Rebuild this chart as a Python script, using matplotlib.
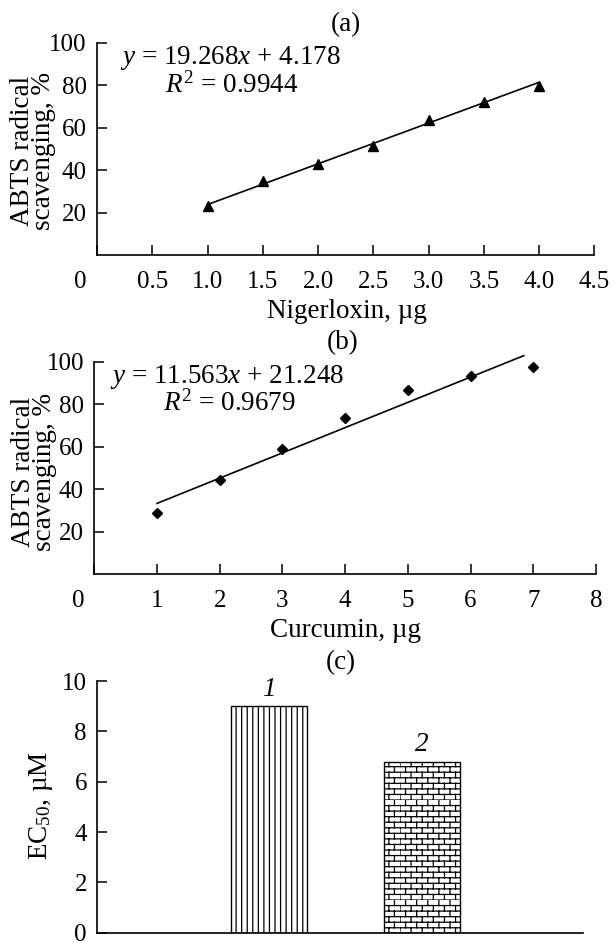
import warnings
import matplotlib
matplotlib.use("Agg")
import matplotlib.pyplot as plt
import matplotlib.hatch as mhatch
from matplotlib.path import Path
from matplotlib.transforms import ScaledTranslation

warnings.filterwarnings("ignore")

W, H = 614, 943

# (a) nigerloxin
nig_x = [1.0, 1.5, 2.0, 2.5, 3.0, 3.5, 4.0]
nig_y = [23.3, 35.0, 43.1, 51.2, 63.7, 72.3, 79.5]
nig_fit_x = [1.0, 4.0]
nig_fit_y = [23.9, 81.4]
nig_eq = "$y$ = 19.268$x$ + 4.178"
nig_r2 = "$R^2$ = 0.9944"
nig_xticks = [0, 0.5, 1.0, 1.5, 2.0, 2.5, 3.0, 3.5, 4.0, 4.5]
nig_xticklabels = ["0", "0.5", "1.0", "1.5", "2.0", "2.5", "3.0", "3.5", "4.0", "4.5"]

# (b) curcumin
cur_x = [1, 2, 3, 4, 5, 6, 7]
cur_y = [28.6, 44.3, 58.8, 73.7, 86.9, 93.2, 97.6]
cur_fit_x = [1.0, 6.85]
cur_fit_y = [33.3, 103.0]
cur_eq = "$y$ = 11.563$x$ + 21.248"
cur_r2 = "$R^2$ = 0.9679"
cur_xticks = [0, 1, 2, 3, 4, 5, 6, 7, 8]

scav_yticks = [20, 40, 60, 80, 100]

# (c) EC50
ec50_names = ["1", "2"]
ec50_vals = [9.0, 6.8]
ec50_hatches = ["|||", "b"]
ec50_yticks = [0, 2, 4, 6, 8, 10]


class BrickHatch(mhatch.HatchPatternBase):
    """brick pattern for hatch letter 'b'"""
    def __init__(self, hatch, density):
        k = hatch.count("b")
        self.rows = 3 * density * k
        self.cols = self.rows // 2
        self.num_vertices = self.rows * (2 + 2 * self.cols) if k else 0

    def set_vertices_and_codes(self, vertices, codes):
        h = 1.0 / self.rows
        w = 1.0 / self.cols
        i = 0
        for r in range(self.rows):
            y0 = r * h
            vertices[i] = (0.0, y0)
            vertices[i + 1] = (1.0, y0)
            codes[i] = Path.MOVETO
            codes[i + 1] = Path.LINETO
            i += 2
            shift = 0.5 * w * (r % 2)
            for c in range(self.cols):
                x = c * w + shift
                vertices[i] = (x, y0)
                vertices[i + 1] = (x, y0 + h)
                codes[i] = Path.MOVETO
                codes[i + 1] = Path.LINETO
                i += 2


mhatch._hatch_types.append(BrickHatch)

plt.rcParams["font.family"] = ["Liberation Serif", "DejaVu Serif"]
plt.rcParams["mathtext.fontset"] = "custom"
plt.rcParams["mathtext.rm"] = "Liberation Serif"
plt.rcParams["mathtext.it"] = "Liberation Serif:italic"
plt.rcParams["mathtext.bf"] = "Liberation Serif:bold"
plt.rcParams["hatch.linewidth"] = 0.9

FS = 19.5
TICK_FS = 18


def px(x, y):
    return x / W, 1 - y / H


def rect(left, top, right, bottom):
    return [left / W, 1 - bottom / H, (right - left) / W, (bottom - top) / H]


def style(ax):
    for s in ("top", "right"):
        ax.spines[s].set_visible(False)
    for s in ("left", "bottom"):
        ax.spines[s].set_linewidth(1.2)
    ax.tick_params(direction="in", length=7, width=1.1, labelsize=TICK_FS)
    ax.tick_params(axis="x", pad=11.5)
    ax.tick_params(axis="y", pad=7.5)


def shift_first_xlabel(ax, dx_px):
    tick = ax.xaxis.get_major_ticks()[0]
    tick.label1.set_transform(tick.label1.get_transform()
                              + ScaledTranslation(dx_px / 100, 0, fig.dpi_scale_trans))


fig = plt.figure(figsize=(W / 100, H / 100), dpi=100)

# ---- (a)
ax_a = fig.add_axes(rect(97, 42.7, 594.5, 255.4))
style(ax_a)
ax_a.plot(nig_fit_x, nig_fit_y, color="black", lw=1.2, clip_on=False)
ax_a.plot(nig_x, nig_y, "^", color="black", ms=7.5, clip_on=False, zorder=3)
ax_a.set_xlim(0, 4.5)
ax_a.set_ylim(0, 100)
ax_a.set_xticks(nig_xticks, nig_xticklabels)
ax_a.set_yticks(scav_yticks)
shift_first_xlabel(ax_a, -17)

fig.text(*px(346, 25), "(a)", ha="center", va="center", fontsize=FS)
fig.text(*px(120, 64), nig_eq, ha="left", va="baseline", fontsize=FS)
fig.text(*px(165, 92.5), nig_r2, ha="left", va="baseline", fontsize=FS)
fig.text(*px(347, 318), "Nigerloxin, µg", ha="center", va="baseline", fontsize=FS)
fig.text(*px(33, 151), "ABTS radical\nscavenging, %", rotation=90, ha="center",
         va="center", fontsize=FS, linespacing=0.82, multialignment="center")

# ---- (b)
ax_b = fig.add_axes(rect(94.3, 362, 595.9, 574))
style(ax_b)
ax_b.plot(cur_fit_x, cur_fit_y, color="black", lw=1.2, clip_on=False)
ax_b.plot(cur_x, cur_y, "D", color="black", ms=5.5, clip_on=False, zorder=3)
ax_b.set_xlim(0, 8)
ax_b.set_ylim(0, 100)
ax_b.set_xticks(cur_xticks)
ax_b.set_yticks(scav_yticks)
shift_first_xlabel(ax_b, -16)

fig.text(*px(343, 342.5), "(b)", ha="center", va="center", fontsize=FS)
fig.text(*px(110, 383.3), cur_eq, ha="left", va="baseline", fontsize=FS)
fig.text(*px(163, 411), cur_r2, ha="left", va="baseline", fontsize=FS)
fig.text(*px(346, 637), "Curcumin, µg", ha="center", va="baseline", fontsize=FS)
fig.text(*px(34, 472), "ABTS radical\nscavenging, %", rotation=90, ha="center",
         va="center", fontsize=FS, linespacing=0.82, multialignment="center")

# ---- (c)
ax_c = fig.add_axes(rect(97.4, 681, 583, 932.7))
style(ax_c)
pos = list(range(len(ec50_vals)))
bars = ax_c.bar(pos, ec50_vals, width=0.5, color="white", edgecolor="black", linewidth=1.0)
for b, h in zip(bars, ec50_hatches):
    b.set_hatch(h)
for p, v, name in zip(pos, ec50_vals, ec50_names):
    ax_c.annotate(name, (p, v), xytext=(0, 7.5), textcoords="offset points",
                  ha="center", va="baseline", fontsize=FS, fontstyle="italic")
ax_c.set_xlim(-1.122, 2.052)
ax_c.set_ylim(0, 10)
ax_c.set_xticks([])
ax_c.set_yticks(ec50_yticks)

fig.text(*px(340.5, 662.5), "(c)", ha="center", va="center", fontsize=FS)
fig.text(*px(41, 806), "EC$_{50}$, µM", rotation=90, ha="center", va="center", fontsize=FS)

fig.savefig("out.png", dpi=100)
